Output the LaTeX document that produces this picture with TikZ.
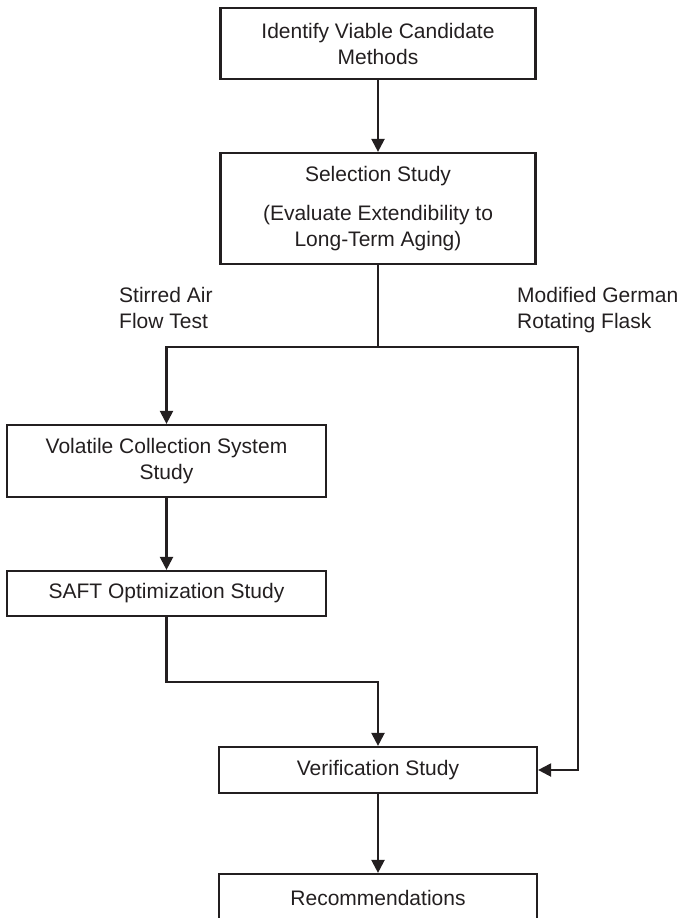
\documentclass[tikz,border=0pt]{standalone}
\usepackage{fontspec}
\setmainfont{Liberation Sans}
\usetikzlibrary{arrows.meta}
\definecolor{ink}{HTML}{231F20}
\tikzset{
  box/.style={draw=ink, line width=2.2pt, inner sep=0pt, align=center, text=ink,
              font=\fontsize{21}{26}\selectfont},
  conn/.style={draw=ink, line width=2.2pt},
  arr/.style={conn, -{Triangle[width=13pt,length=13pt]}},
  lbl/.style={inner sep=0pt, align=left, text=ink, font=\fontsize{21}{26}\selectfont}
}
\begin{document}
\begin{tikzpicture}[x=1pt,y=-1pt]
\useasboundingbox (0,0) rectangle (680,918);
\node[box, minimum width=315pt, minimum height=71pt] (b1) at (378,43.5)
  {Identify Viable Candidate\\Methods};
\node[box, minimum width=315pt, minimum height=111pt] (b2) at (378,208.5)
  {Selection Study\\[13pt](Evaluate Extendibility to\\Long-Term Aging)};
\node[box, minimum width=319pt, minimum height=72pt] (b3) at (166.5,461)
  {Volatile Collection System\\Study};
\node[box, minimum width=319pt, minimum height=45pt] (b4) at (166.5,593.5)
  {SAFT Optimization Study};
\node[box, minimum width=318pt, minimum height=46pt] (b5) at (378,770)
  {Verification Study};
\node[box, minimum width=318pt, minimum height=48pt] (b6) at (378,898)
  {Recommendations};
\node[lbl, anchor=north west] (l1) at (119,287) {Stirred Air\\Flow Test};
\node[lbl, anchor=north west] (l2) at (517,287) {Modified German\\Rotating Flask};
\coordinate (split) at (378,347);
\coordinate (rc) at (578,347);
\coordinate (j) at (378,682);
\draw[arr] (b1) -- (b2);
\draw[conn] (b2.south) -- (split);
\draw[arr] (split) -| (b3.north);
\draw[arr] (split) -- (rc) |- (b5.east);
\draw[arr] (b3) -- (b4);
\draw[arr] (b4.south) |- (j) -- (b5.north);
\draw[arr] (b5) -- (b6);
\end{tikzpicture}
\end{document}
